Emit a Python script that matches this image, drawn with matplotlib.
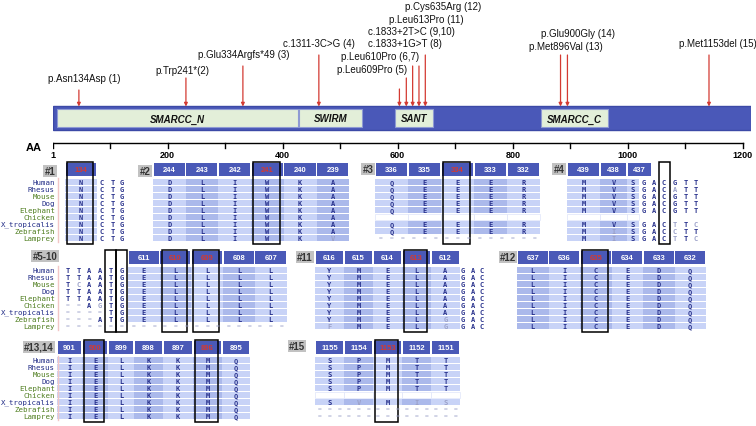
import matplotlib.pyplot as plt
from matplotlib.patches import Rectangle

plt.rcParams['font.family'] = ['Liberation Sans', 'DejaVu Sans']

# protein schematic
protein_len = 1214
domain_names = ["SMARCC_N", "SWIRM", "SANT", "SMARCC_C"]
domain_start = [8, 428, 595, 849]
domain_end = [427, 538, 661, 965]

mut_labels = ["p.Asn134Asp (1)", "p.Trp241*(2)", "p.Glu334Argfs*49 (3)", "c.1311-3C>G (4)",
              "p.Leu609Pro (5)", "p.Leu610Pro (6,7)", "c.1833+1G>T (8)", "c.1833+2T>C (9,10)",
              "p.Leu613Pro (11)", "p.Cys635Arg (12)", "p.Met896Val (13)", "p.Glu900Gly (14)",
              "p.Met1153del (15)"]
# arrow positions as drawn on the schematic bar (aa scale)
arrow_pos = [46, 232, 331, 463, 603, 615, 626, 637, 648, 883, 895, 1141]

ruler_ticks = [1] + list(range(100, 1201, 100))
ruler_labels = [1, 200, 400, 600, 800, 1000, 1200]

species = ["Human", "Rhesus", "Mouse", "Dog", "Elephant", "Chicken",
           "X_tropicalis", "Zebrafish", "Lamprey"]
species_navy = ["Human", "Rhesus", "Dog", "X_tropicalis"]

# alignments ("" = no sequence, "=" = gap row, lowercase = weak/grey residue)
p1_nums = [134]
p1_seqs = ["NCTG"] * 9
p2_nums = [244, 243, 242, 241, 240, 239]
p2_seqs = ["DLIWKA"] * 8 + ["DLIWKv"]
p3_nums = [336, 335, 334, 333, 332]
p3_seqs = ["QEEER"] * 5 + [""] + ["QEEER"] * 2 + ["="]
p4_nums = [439, 438, 437]
p4_seqs = ["MVSGACGTT", "MVSGACaTT", "MVSGACGTT", "MVSGACGTT", "MVSGACGTT", "",
           "MVSGACtTc", "MiSGACcTT", "MiSGACtTc"]
p5_nums = [611, 610, 609, 608, 607]
p5_seqs = ["TTAATGELLLL", "TTAATGELLLL", "TcAATGELLLL", "TTAATGELLLL", "TTAATGELLLL",
           "==AgTGELLLL", "====TGELLLL", "===ATGELLLL", "="]
p11_nums = [616, 615, 614, 613, 612]
p11_seqs = ["YMELAGAC"] * 7 + ["YMELgGAC", "fMELgGAC"]
p12_nums = [637, 636, 635, 634, 633, 632]
p12_seqs = ["LICEDQ"] * 9
p13_nums = [901, 900, 899, 898, 897, 896, 895]
p13_seqs = ["IELKKMQ"] * 9
p15_nums = [1155, 1154, 1153, 1152, 1151]
p15_seqs = ["SPMTT"] * 5 + [""] + ["SvMis"] + ["="] * 2

RED = '#d33a32'
HEAD = '#4a59b7'
LIGHT = '#c8d3f7'
DARK = '#abb9eb'
LETTER = '#28318c'
GREY = '#9aa0c8'
NAVY = '#1f2a85'
GREEN = '#4e7d1e'
ROW = 7

W, H = 756, 427
fig = plt.figure(figsize=(W / 100, H / 100), dpi=100)
ax = fig.add_axes([0, 0, 1, 1])
ax.set_xlim(0, W)
ax.set_ylim(H, 0)
ax.axis('off')

# axes in amino-acid units for the bar and the ruler
axm = fig.add_axes([53 / W, 0, (751 - 53) / W, 1])
axm.set_xlim(1, protein_len)
axm.set_ylim(H, 0)
axm.axis('off')

axm.add_patch(Rectangle((1, 107), protein_len - 1, 24, fc='#4a58b8', ec='#3c49a6', lw=1))
for name, s, e in zip(domain_names, domain_start, domain_end):
    axm.add_patch(Rectangle((s, 110), e - s, 18, fc='#e3efd9', ec='#8e9ad3', lw=0.8))
    axm.text((s + e) / 2, 119.5, name, ha='center', va='center', fontsize=7,
             weight='bold', style='italic', color='#111111')

arrow_top = [91, 79, 67, 56, 90, 79, 67, 67, 56, 56, 56, 56]
for p, top in zip(arrow_pos, arrow_top):
    axm.annotate('', xy=(p, 107.5), xytext=(p, top),
                 arrowprops=dict(arrowstyle='-|>', color=RED, lw=0.9,
                                 mutation_scale=5, shrinkA=0, shrinkB=0))

label_xy = [(84, 79, 'center'), (182, 71, 'center'), (244, 55, 'center'), (319, 44, 'center'),
            (337, 70, 'left'), (341, 57, 'left'), (368, 44, 'left'), (368, 32, 'left'),
            (389, 20, 'left'), (405, 7, 'left'), (529, 47, 'left'), (541, 34, 'left'),
            (679, 44, 'left')]
for txt, (x, y, ha) in zip(mut_labels, label_xy):
    ax.text(x, y, txt, ha=ha, va='center', fontsize=7, color='#111111')

# ruler
axm.plot([1, 1200], [144, 144], color='black', lw=1)
for t in ruler_ticks:
    axm.plot([t, t], [144, 149], color='black', lw=1)
for t in ruler_labels:
    axm.text(t, 155.5, str(t), ha='center', va='center', fontsize=6.5, weight='bold')
ax.text(34, 148, 'AA', ha='center', va='center', fontsize=8, weight='bold')


def draw_panel(tag, tag_xy, head_y, row_y, cols, kinds, nums, seqs, boxes,
               head_w=None, names=False, start_dark=False):
    last_y = row_y + (len(seqs) - 1) * ROW
    aa_cols = [j for j, k in enumerate(kinds) if k == 'a']
    ax.text(tag_xy[0], tag_xy[1], tag, ha='center', va='center', fontsize=7, weight='bold',
            color='#333333', bbox=dict(boxstyle='square,pad=0.12', fc='#c2c2c2', ec='none'))
    # header boxes
    for i, (j, n) in enumerate(zip(aa_cols, nums)):
        left, w = cols[j]
        hw = head_w[i] if head_w else w
        ax.add_patch(Rectangle((left + 0.5, head_y), hw - 1.5, 12.5, fc=HEAD, ec='none'))
        ax.text(left + hw / 2, head_y + 6.5, str(n), ha='center', va='center', fontsize=5.5,
                weight='bold', color=RED if j in boxes else 'white')
    # rows
    for r, seq in enumerate(seqs):
        y = row_y + r * ROW
        if seq == "":
            for j in aa_cols:
                left, w = cols[j]
                ax.add_patch(Rectangle((left, y - 3), w, 6, fc='white', ec='#dfe5fa', lw=0.5))
            continue
        if seq == "=":
            for j, k in enumerate(kinds):
                left, w = cols[j]
                marks = 3 if k == 'a' else 1
                for m in range(marks):
                    ax.text(left + w * (m + 0.5) / marks, y, '=', ha='center', va='center',
                            fontsize=4.5, family='DejaVu Sans Mono', color=GREY)
            continue
        for j, (k, ch) in enumerate(zip(kinds, seq)):
            left, w = cols[j]
            if k == 'a':
                dark = (aa_cols.index(j) % 2 == 1) != start_dark
                ax.add_patch(Rectangle((left, y - 3), w, 6, fc=DARK if dark else LIGHT, ec='none'))
            if ch == '=':
                ax.text(left + w / 2, y, '=', ha='center', va='center', fontsize=4.5,
                        family='DejaVu Sans Mono', color=GREY)
                continue
            ax.text(left + w / 2, y + 0.3, ch.upper(), ha='center', va='center', fontsize=5,
                    family='DejaVu Sans Mono', weight='bold',
                    color=GREY if ch.islower() else LETTER)
    # outlines on the mutated columns
    for j in boxes:
        left, w = cols[j]
        if kinds[j] == 'a':
            ax.add_patch(Rectangle((left + 2, head_y - 1), w - 6, last_y + 6 - head_y + 1,
                                   fill=False, ec='black', lw=1.1))
        else:
            ax.add_patch(Rectangle((left, head_y - 1), w, last_y + 6 - head_y + 1,
                                   fill=False, ec='black', lw=1.1))
    if names:
        for r, sp in enumerate(species):
            ax.text(55, row_y + r * ROW, sp, ha='right', va='center', fontsize=5.3,
                    family='DejaVu Sans Mono', color=NAVY if sp in species_navy else GREEN)
        ax.plot([57.5, 57.5], [row_y - 4, last_y + 4], color='#f2c6c6', lw=1)


def nt(c):
    return (c - 5.5, 11)


def aa(start, pitch, n):
    return [(start + i * pitch, pitch) for i in range(n)]


# row 1
draw_panel('#1', (50, 172), 164, 183, [(65, 32)] + [nt(c) for c in (102, 113, 122)],
           'annn', p1_nums, p1_seqs, [0], names=True)
draw_panel('#2', (145, 172), 164, 183, aa(153, 32.7, 6), 'aaaaaa', p2_nums, p2_seqs, [3])
draw_panel('#3', (368, 170), 164, 183, aa(375, 33, 5), 'aaaaa', p3_nums, p3_seqs, [2])
draw_panel('#4', (559, 170), 164, 183,
           [(567, 33), (600, 27), (627, 12)] + [nt(c) for c in (644, 654, 664, 675, 686, 696)],
           'aaannnnnn', p4_nums, p4_seqs, [5], head_w=[33, 27, 25])

# row 2
draw_panel('#5-10', (45, 257), 252, 271,
           [nt(c) for c in (68, 78.5, 89.5, 100, 110.5, 121.5)] + aa(128, 31.7, 5),
           'nnnnnnaaaaa', p5_nums, p5_seqs, [4, 5, 7, 8], names=True)
draw_panel('#11', (305, 258), 252, 271, aa(315, 29, 5) + [nt(c) for c in (463, 473, 482)],
           'aaaaannn', p11_nums, p11_seqs, [3])
draw_panel('#12', (508, 258), 252, 271, aa(517, 31.5, 6), 'aaaaaa', p12_nums, p12_seqs, [2],
           start_dark=True)

# row 3
draw_panel('#13,14', (39, 348), 342, 361,
           [(57, 25), (82, 26), (108, 26), (134, 29), (163, 30), (193, 29), (222, 28)],
           'aaaaaaa', p13_nums, p13_seqs, [1, 5], names=True)
draw_panel('#15', (297, 347), 342, 361, aa(315, 29, 5), 'aaaaa', p15_nums, p15_seqs, [2])

fig.savefig('out.png', dpi=100)
